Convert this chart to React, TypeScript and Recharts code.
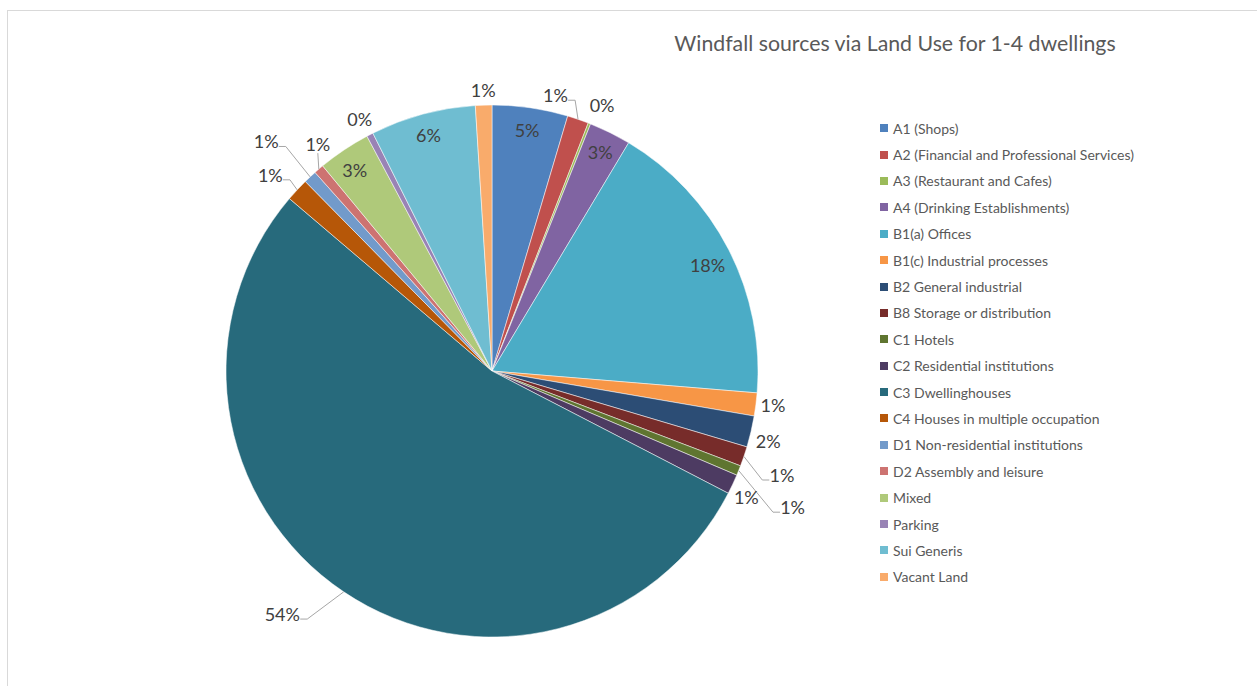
import { Legend, Pie, PieChart, Cell } from 'recharts'

const categories = [
  'A1 (Shops)',
  'A2 (Financial and Professional Services)',
  'A3 (Restaurant and Cafes)',
  'A4 (Drinking Establishments)',
  'B1(a) Offices',
  'B1(c) Industrial processes',
  'B2 General industrial',
  'B8 Storage or distribution',
  'C1 Hotels',
  'C2 Residential institutions',
  'C3 Dwellinghouses',
  'C4 Houses in multiple occupation',
  'D1 Non-residential institutions',
  'D2 Assembly and leisure',
  'Mixed',
  'Parking',
  'Sui Generis',
  'Vacant Land',
]

// share of windfall sites, in percent
const shares = [4.6, 1.3, 0.15, 2.55, 17.75, 1.4, 1.9, 1.2, 0.6, 1.2, 53.7, 1.4, 0.8, 0.6, 3.2, 0.4, 6.4, 1.0]

const colors = [
  '#4F81BD', '#C0504D', '#9BBB59', '#8064A2', '#4BACC6', '#F79646',
  '#2C4D75', '#772C2A', '#5F7530', '#4D3B62', '#276A7C', '#B65708',
  '#729ACA', '#CD7371', '#AFC97A', '#9983B5', '#6FBDD1', '#F9AB6B',
]

// label placement like Excel's "best fit": radial distance, angle nudge, leader line
const labelLayout = [
  { r: 244, d: 0, leader: false },
  { r: 283, d: -5.9, leader: true },
  { r: 288, d: 1, leader: false },
  { r: 244, d: 0, leader: false },
  { r: 240, d: 1.1, leader: false },
  { r: 283, d: -0.3, leader: false },
  { r: 285, d: 1.1, leader: false },
  { r: 308, d: 1, leader: true },
  { r: 330, d: 2.4, leader: true },
  { r: 284, d: 1.2, leader: false },
  { r: 321, d: 6.9, leader: true },
  { r: 296, d: -1.4, leader: true },
  { r: 322, d: -1.4, leader: true },
  { r: 286, d: 3.1, leader: true },
  { r: 243, d: -0.6, leader: false },
  { r: 285, d: -0.35, leader: false },
  { r: 244, d: 0, leader: false },
  { r: 281, d: 0, leader: false },
]

const data = categories.map((name, i) => ({ name, value: shares[i] }))

const FONT = 'Lato, "Open Sans", sans-serif'

function renderLabel(props: any) {
  const { cx, cy, midAngle, outerRadius, percent, index } = props
  const lay = labelLayout[index]
  const a = 90 - midAngle
  const rad = (deg: number) => (deg * Math.PI) / 180
  const tx = cx + lay.r * Math.sin(rad(a + lay.d))
  const ty = cy - lay.r * Math.cos(rad(a + lay.d))
  const text = `${Math.round(percent * 100)}%`
  const half = text.length * 5.3
  let line = null
  if (lay.leader) {
    const ex = cx + outerRadius * Math.sin(rad(a))
    const ey = cy - outerRadius * Math.cos(rad(a))
    let pts: string
    if (Math.abs(ex - tx) < half) {
      pts = `${tx},${ty + 9} ${ex},${ey}`
    } else if (ex > tx) {
      const ax = tx + half + 2
      pts = `${ax},${ty + 5} ${ax + 7},${ty + 5} ${ex},${ey}`
    } else {
      const ax = tx - half - 2
      pts = `${ax},${ty + 5} ${ax - 7},${ty + 5} ${ex},${ey}`
    }
    line = <polyline points={pts} fill="none" stroke="#a6a6a6" strokeWidth={1} />
  }
  return (
    <g key={`lbl-${index}`}>
      {line}
      <text
        x={tx}
        y={ty}
        textAnchor="middle"
        dominantBaseline="central"
        fill="#404040"
        fontSize={18}
        fontFamily={FONT}
      >
        {text}
      </text>
    </g>
  )
}

function renderLegend(props: any) {
  const payload = props.payload || []
  return (
    <div>
      {payload.map((entry: any, i: number) => (
        <div
          key={i}
          style={{ display: 'flex', alignItems: 'center', height: 26.4, fontFamily: FONT, fontSize: 14, color: '#595959' }}
        >
          <span style={{ display: 'inline-block', width: 8, height: 8, background: entry.color, marginRight: 5 }} />
          <span>{entry.value}</span>
        </div>
      ))}
    </div>
  )
}

export default function App() {
  return (
    <div
      style={{
        position: 'absolute',
        left: 7,
        top: 10,
        width: 1249,
        height: 675,
        borderTop: '1px solid #d9d9d9',
        borderLeft: '1px solid #d9d9d9',
        background: '#fff',
      }}
    >
      <div
        style={{
          position: 'absolute',
          left: 0,
          width: 1774,
          top: 19,
          textAlign: 'center',
          fontFamily: FONT,
          fontSize: 21.3,
          color: '#595959',
        }}
      >
        Windfall sources via Land Use for 1-4 dwellings
      </div>
      <PieChart width={1249} height={675} margin={{ top: 0, right: 0, bottom: 0, left: 0 }}>
        <Pie
          data={data}
          dataKey="value"
          nameKey="name"
          cx={484}
          cy={360}
          outerRadius={266}
          startAngle={90}
          endAngle={-270}
          stroke="#fff"
          strokeWidth={0.5}
          label={renderLabel}
          labelLine={false}
          isAnimationActive={false}
        >
          {data.map((_, i) => (
            <Cell key={i} fill={colors[i]} />
          ))}
        </Pie>
        <Legend
          layout="vertical"
          content={renderLegend}
          wrapperStyle={{ position: 'absolute', left: 872, top: 104, width: 340 }}
        />
      </PieChart>
    </div>
  )
}
